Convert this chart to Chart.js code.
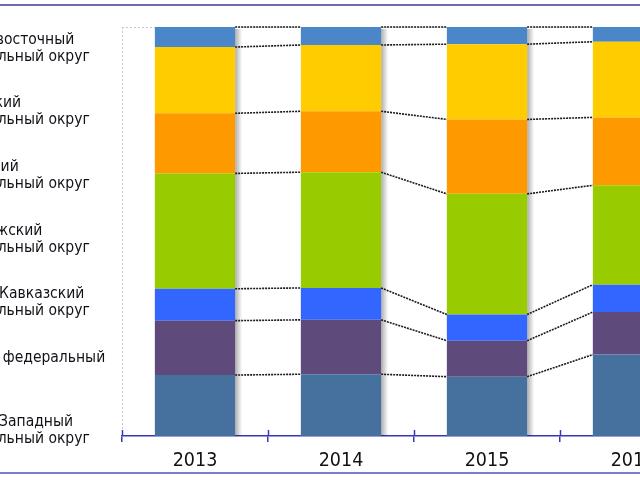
<!DOCTYPE html>
<html><head><meta charset="utf-8">
<script src="https://cdn.jsdelivr.net/npm/chart.js@4/dist/chart.umd.min.js"></script>
<style>
html,body{margin:0;padding:0;background:#fff;overflow:hidden;width:640px;height:480px;position:relative}
#wrap{position:absolute;left:-60px;top:0;width:790px;height:480px}
.rule{position:absolute;left:0;width:640px;height:2px}
</style></head><body>
<div id="wrap"><canvas id="c" width="790" height="480"></canvas></div>
<div class="rule" style="top:4px;background:#6c6ca8"></div>
<div class="rule" style="top:472px;background:#7c7cd4"></div>
<script>
// categories
const years = ['2013', '2014', '2015', '2016'];
// districts, bottom to top of the stack
const districts = ['Северо-Западный федеральный округ', 'Южный федеральный округ', 'Северо-Кавказский федеральный округ',
  'Приволжский федеральный округ', 'Уральский федеральный округ', 'Сибирский федеральный округ', 'Дальневосточный федеральный округ'];
// left-hand label text (wrapped), bottom to top
const sideLabels = [
  ['Северо-Западный', 'федеральный округ'],
  ['Южный федеральный', 'округ'],
  ['Северо-Кавказский', 'федеральный округ'],
  ['Приволжский', 'федеральный округ'],
  ['Уральский', 'федеральный округ'],
  ['Сибирский', 'федеральный округ'],
  ['Дальневосточный', 'федеральный округ']
];
// shares, % (2013..2016)
const szfo = [14.9, 15.1, 14.5, 19.9];
const yufo = [13.3, 13.3, 8.8, 10.4];
const skfo = [7.8, 7.8, 6.4, 6.7];
const pfo  = [28.2, 28.3, 29.5, 24.3];
const urfo = [14.7, 14.9, 18.2, 16.6];
const sfo  = [16.2, 16.2, 18.4, 18.5];
const dfo  = [4.9, 4.4, 4.2, 3.6];
const seriesValues = [szfo, yufo, skfo, pfo, urfo, sfo, dfo];
const seriesColors = ['#46719F', '#5F4A7C', '#3366FF', '#99CC00', '#FF9900', '#FFCC00', '#4A86C8'];

const FONT = '"DejaVu Sans Condensed", "Liberation Sans", sans-serif';

const decor = {
  id: 'decor',
  beforeDatasetsDraw(chart) {
    const {ctx, chartArea: a} = chart;
    ctx.save();
    ctx.strokeStyle = '#c6c6d0'; ctx.lineWidth = 1; ctx.setLineDash([2, 2]);
    ctx.beginPath();
    ctx.moveTo(a.left + 0.5, a.top); ctx.lineTo(a.left + 0.5, a.bottom);
    ctx.moveTo(a.left, a.top + 0.5); ctx.lineTo(a.right, a.top + 0.5);
    ctx.stroke();
    ctx.setLineDash([]);
    const n = chart.data.datasets.length;
    const m0 = chart.getDatasetMeta(0), mt = chart.getDatasetMeta(n - 1);
    m0.data.forEach((bar, i) => {
      const top = mt.data[i].y, bottom = bar.base, r = bar.x + bar.width / 2;
      const g = ctx.createLinearGradient(r, 0, r + 7, 0);
      g.addColorStop(0, 'rgba(0,0,0,0.32)'); g.addColorStop(1, 'rgba(0,0,0,0)');
      ctx.fillStyle = g; ctx.fillRect(r, top + 2, 7, bottom - top - 2);
    });
    ctx.restore();
  },
  afterDatasetsDraw(chart) {
    const {ctx} = chart;
    ctx.save();
    ctx.strokeStyle = '#1a1a1a'; ctx.lineWidth = 1.6; ctx.setLineDash([2, 1]);
    chart.data.datasets.forEach((ds, k) => {
      const els = chart.getDatasetMeta(k).data;
      for (let i = 0; i < els.length - 1; i++) {
        const a = els[i], b = els[i + 1];
        ctx.beginPath();
        ctx.moveTo(a.x + a.width / 2, a.y);
        ctx.lineTo(b.x - b.width / 2, b.y);
        ctx.stroke();
      }
    });
    ctx.restore();
  },
  afterDraw(chart) {
    const {ctx, chartArea: a} = chart;
    const xs = chart.scales.x;
    const p0 = xs.getPixelForValue(0), step = xs.getPixelForValue(1) - p0;
    ctx.save();
    ctx.strokeStyle = '#3838b4'; ctx.lineWidth = 1.5;
    for (let i = 0; i <= years.length; i++) {
      const x = Math.round(p0 + (i - 0.5) * step) + 0.5;
      ctx.beginPath(); ctx.moveTo(x, a.bottom); ctx.lineTo(x, a.bottom - 6); ctx.stroke();
    }
    ctx.restore();
  }
};

new Chart(document.getElementById('c'), {
  type: 'bar',
  data: {
    labels: years,
    datasets: seriesValues.map((vals, k) => ({
      label: districts[k], data: vals, backgroundColor: seriesColors[k], borderWidth: 0,
      categoryPercentage: 1, barPercentage: 0.55, yAxisID: 'y'
    }))
  },
  options: {
    responsive: false, animation: false, devicePixelRatio: 1,
    layout: {padding: {left: 1.5, right: 24, top: 27, bottom: 8}},
    plugins: {legend: {display: false}, tooltip: {enabled: false}},
    scales: {
      x: {
        stacked: true, offset: true,
        grid: {display: true, offset: true, drawOnChartArea: false, drawTicks: true, tickLength: 6, color: '#3838b4', lineWidth: 1.5},
        border: {display: true, color: '#3838b4', width: 1.5},
        ticks: {color: '#111', padding: 7, font: {family: FONT, size: 19.5}},
        afterFit(s) { s.height = 36; }
      },
      y: {stacked: true, display: false, min: 0, max: 100},
      yl: {
        type: 'linear', position: 'left', min: -0.094, max: 6.33,
        grid: {display: false, drawTicks: false}, border: {display: false},
        afterBuildTicks(s) { s.ticks = sideLabels.map((_, i) => ({value: i})); },
        ticks: {autoSkip: false, crossAlign: 'far', color: '#111118', font: {family: FONT, size: 15.5, lineHeight: 1.1},
          callback: (v) => sideLabels[v]},
        afterFit(s) { s.width = 180.5; }
      }
    }
  },
  plugins: [decor]
});
</script>
</body></html>
